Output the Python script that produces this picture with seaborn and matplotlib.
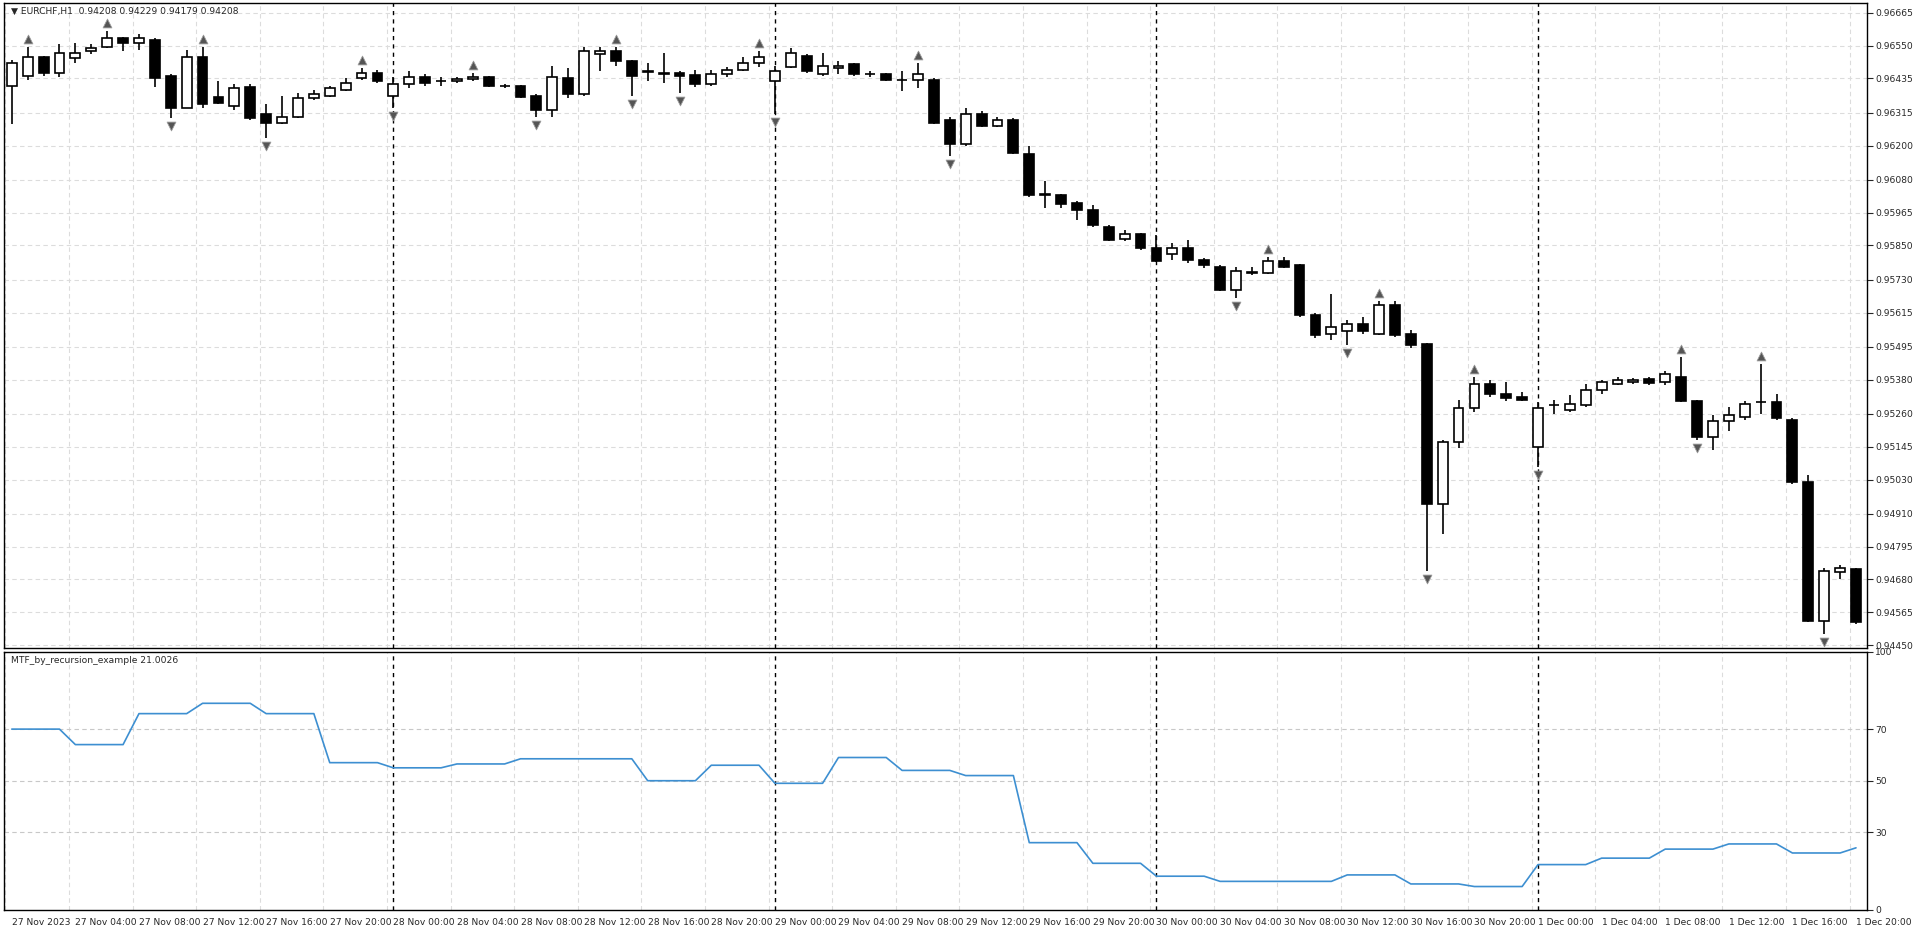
import numpy as np
import pandas as pd
import seaborn as sns
import matplotlib.pyplot as plt

# hourly EURCHF candles, 27 Nov 2023 00:00 .. 1 Dec 2023 20:00
opens = [0.96410, 0.96445, 0.96510, 0.96455, 0.96505, 0.96530, 0.96545, 0.96575, 0.96560, 0.96570,
         0.96445, 0.96330, 0.96510, 0.96370, 0.96340, 0.96405, 0.96310, 0.96280, 0.96300, 0.96365,
         0.96375, 0.96395, 0.96435, 0.96455, 0.96375, 0.96415, 0.96440, 0.96425, 0.96425, 0.96432,
         0.96440, 0.96410, 0.96410, 0.96375, 0.96325, 0.96435, 0.96380, 0.96520, 0.96530, 0.96495,
         0.96460, 0.96455, 0.96455, 0.96448, 0.96415, 0.96450, 0.96465, 0.96490, 0.96425, 0.96475,
         0.96515, 0.96450, 0.96472, 0.96485, 0.96450, 0.96450, 0.96430, 0.96428, 0.96430, 0.96290,
         0.96205, 0.96310, 0.96270, 0.96290, 0.96170, 0.96030, 0.96025, 0.96000, 0.95975, 0.95915,
         0.95872, 0.95890, 0.95840, 0.95820, 0.95840, 0.95800, 0.95775, 0.95695, 0.95755, 0.95755,
         0.95795, 0.95780, 0.95605, 0.95540, 0.95550, 0.95575, 0.95540, 0.95640, 0.95540, 0.95505,
         0.94945, 0.95160, 0.95280, 0.95365, 0.95330, 0.95320, 0.95145, 0.95290, 0.95275, 0.95290,
         0.95345, 0.95365, 0.95370, 0.95382, 0.95370, 0.95390, 0.95305, 0.95180, 0.95235, 0.95250,
         0.95300, 0.95300, 0.95240, 0.95020, 0.94535, 0.94705, 0.94715]
highs = [0.96500, 0.96545, 0.96515, 0.96555, 0.96560, 0.96555, 0.96600, 0.96580, 0.96590, 0.96575,
         0.96450, 0.96535, 0.96545, 0.96425, 0.96415, 0.96415, 0.96345, 0.96375, 0.96385, 0.96395,
         0.96410, 0.96435, 0.96470, 0.96465, 0.96440, 0.96460, 0.96450, 0.96440, 0.96440, 0.96455,
         0.96445, 0.96415, 0.96412, 0.96380, 0.96480, 0.96470, 0.96545, 0.96545, 0.96545, 0.96500,
         0.96490, 0.96525, 0.96460, 0.96465, 0.96465, 0.96475, 0.96510, 0.96530, 0.96480, 0.96540,
         0.96520, 0.96525, 0.96495, 0.96490, 0.96460, 0.96455, 0.96460, 0.96490, 0.96435, 0.96300,
         0.96330, 0.96320, 0.96300, 0.96295, 0.96200, 0.96075, 0.96030, 0.96005, 0.95990, 0.95920,
         0.95905, 0.95893, 0.95885, 0.95860, 0.95870, 0.95805, 0.95780, 0.95775, 0.95775, 0.95810,
         0.95810, 0.95785, 0.95615, 0.95680, 0.95590, 0.95600, 0.95655, 0.95655, 0.95555, 0.95510,
         0.95170, 0.95310, 0.95390, 0.95380, 0.95370, 0.95335, 0.95300, 0.95310, 0.95325, 0.95365,
         0.95380, 0.95390, 0.95385, 0.95390, 0.95410, 0.95460, 0.95310, 0.95255, 0.95285, 0.95305,
         0.95435, 0.95330, 0.95245, 0.95045, 0.94720, 0.94730, 0.94720]
lows = [0.96275, 0.96430, 0.96445, 0.96440, 0.96490, 0.96520, 0.96540, 0.96530, 0.96535, 0.96405,
        0.96295, 0.96330, 0.96330, 0.96345, 0.96325, 0.96290, 0.96225, 0.96275, 0.96295, 0.96360,
        0.96370, 0.96390, 0.96430, 0.96420, 0.96330, 0.96400, 0.96410, 0.96410, 0.96420, 0.96425,
        0.96405, 0.96400, 0.96365, 0.96300, 0.96300, 0.96365, 0.96375, 0.96460, 0.96480, 0.96375,
        0.96425, 0.96420, 0.96385, 0.96405, 0.96410, 0.96440, 0.96460, 0.96475, 0.96310, 0.96470,
        0.96455, 0.96445, 0.96450, 0.96445, 0.96440, 0.96425, 0.96390, 0.96400, 0.96275, 0.96165,
        0.96200, 0.96265, 0.96265, 0.96170, 0.96020, 0.95980, 0.95980, 0.95940, 0.95915, 0.95865,
        0.95865, 0.95835, 0.95793, 0.95800, 0.95790, 0.95770, 0.95690, 0.95665, 0.95745, 0.95750,
        0.95770, 0.95600, 0.95525, 0.95520, 0.95500, 0.95540, 0.95535, 0.95530, 0.95490, 0.94710,
        0.94840, 0.95140, 0.95265, 0.95320, 0.95305, 0.95305, 0.95075, 0.95260, 0.95265, 0.95285,
        0.95330, 0.95360, 0.95365, 0.95360, 0.95360, 0.95300, 0.95170, 0.95135, 0.95200, 0.95240,
        0.95260, 0.95240, 0.95015, 0.94530, 0.94490, 0.94680, 0.94525]
closes = [0.96490, 0.96510, 0.96455, 0.96525, 0.96525, 0.96540, 0.96575, 0.96560, 0.96578, 0.96435,
          0.96330, 0.96510, 0.96345, 0.96350, 0.96400, 0.96295, 0.96280, 0.96300, 0.96365, 0.96380,
          0.96400, 0.96420, 0.96455, 0.96425, 0.96415, 0.96440, 0.96420, 0.96425, 0.96432, 0.96440,
          0.96410, 0.96408, 0.96370, 0.96325, 0.96440, 0.96380, 0.96530, 0.96530, 0.96495, 0.96445,
          0.96458, 0.96450, 0.96445, 0.96415, 0.96450, 0.96465, 0.96490, 0.96510, 0.96460, 0.96525,
          0.96460, 0.96480, 0.96478, 0.96450, 0.96450, 0.96430, 0.96428, 0.96450, 0.96280, 0.96205,
          0.96310, 0.96270, 0.96290, 0.96175, 0.96025, 0.96025, 0.95995, 0.95975, 0.95920, 0.95870,
          0.95890, 0.95840, 0.95795, 0.95840, 0.95800, 0.95780, 0.95695, 0.95760, 0.95758, 0.95795,
          0.95775, 0.95605, 0.95535, 0.95565, 0.95575, 0.95550, 0.95640, 0.95535, 0.95500, 0.94945,
          0.95160, 0.95280, 0.95365, 0.95330, 0.95315, 0.95310, 0.95280, 0.95290, 0.95295, 0.95345,
          0.95370, 0.95380, 0.95380, 0.95368, 0.95400, 0.95305, 0.95180, 0.95235, 0.95255, 0.95295,
          0.95300, 0.95245, 0.95020, 0.94535, 0.94710, 0.94720, 0.94530]

fractal_up = [1, 6, 12, 22, 29, 38, 47, 57, 79, 86, 92, 105, 110]
fractal_down = [10, 16, 24, 33, 39, 42, 48, 59, 77, 84, 89, 96, 106, 114]

# indicator value per bar
indicator = ([70] * 4 + [64] * 4 + [76] * 4 + [80] * 4 + [76] * 4 + [57] * 4 + [55] * 4 + [56.5] * 4
             + [58.5] * 8 + [50] * 4 + [56] * 4 + [49] * 4 + [59] * 4 + [54] * 4 + [52] * 4 + [26] * 4
             + [18] * 4 + [13] * 4 + [11] * 8 + [13.5] * 4 + [10] * 4 + [9] * 4 + [17.5] * 4 + [20] * 4
             + [23.5] * 4 + [25.5] * 4 + [22] * 4 + [24])

price_ticks = [0.96665, 0.96550, 0.96435, 0.96315, 0.96200, 0.96080, 0.95965, 0.95850, 0.95730, 0.95615,
               0.95495, 0.95380, 0.95260, 0.95145, 0.95030, 0.94910, 0.94795, 0.94680, 0.94565, 0.94450]
ind_ticks = [0, 30, 50, 70, 100]

df = pd.DataFrame({"open": opens, "high": highs, "low": lows, "close": closes})
df["bar"] = np.arange(len(df))
df["time"] = pd.date_range("2023-11-27 00:00", periods=len(df), freq="h")
df["ind"] = indicator

sns.set_style("white")
plt.rcParams["font.family"] = ["DejaVu Sans"]

fig = plt.figure(figsize=(19.15, 9.35), dpi=100)
ax = fig.add_axes([0.002, 0.307, 0.973, 0.690])
ax2 = fig.add_axes([0.002, 0.027, 0.973, 0.276])

xmin, xmax = -0.5, 116.7
grid_kw = dict(color="#dcdcdc", linestyle=(0, (4, 3)), linewidth=0.8)
fs = 6.6

# candles
up = df[df.close >= df.open]
dn = df[df.close < df.open]
ax.vlines(df.bar, df.low, df.high, color="black", linewidth=1.2, zorder=3)
ax.bar(up.bar, (up.close - up.open).clip(lower=0.000015), bottom=up.open, width=0.62,
       color="white", edgecolor="black", linewidth=1.2, zorder=4)
ax.bar(dn.bar, dn.open - dn.close, bottom=dn.close, width=0.62,
       color="black", edgecolor="black", linewidth=1.2, zorder=4)

fu = df.loc[fractal_up]
fd = df.loc[fractal_down]
ax.scatter(fu.bar, fu.high + 0.00028, marker="^", s=40, color="#555555", edgecolor="#999999",
           linewidth=0.6, zorder=5)
ax.scatter(fd.bar, fd.low - 0.00028, marker="v", s=40, color="#555555", edgecolor="#999999",
           linewidth=0.6, zorder=5)

ax.set_xlim(xmin, xmax)
ax.set_ylim(0.94440, 0.96700)
ax.yaxis.tick_right()
ax.set_yticks(price_ticks)
ax.set_yticklabels([f"{p:.5f}" for p in price_ticks], fontsize=fs)
ax.set_xticks([])
for p in price_ticks:
    ax.axhline(p, zorder=0, **grid_kw)
for b in range(0, 117, 4):
    ax.axvline(b - 0.4, zorder=0, **grid_kw)
    ax2.axvline(b - 0.4, zorder=0, **grid_kw)
for b in [24, 48, 72, 96]:
    ax.axvline(b, color="black", linestyle=(0, (3, 3)), linewidth=1.0, zorder=2)
    ax2.axvline(b, color="black", linestyle=(0, (3, 3)), linewidth=1.0, zorder=2)
ax.text(0.004, 0.993, "▼ EURCHF,H1  0.94208 0.94229 0.94179 0.94208", transform=ax.transAxes,
        fontsize=fs, va="top", ha="left")

# indicator panel
sns.lineplot(data=df, x="bar", y="ind", ax=ax2, color="#3d8fd1", linewidth=1.2)
ax2.set_xlim(xmin, xmax)
ax2.set_ylim(0, 100)
ax2.yaxis.tick_right()
ax2.set_yticks(ind_ticks)
ax2.set_yticklabels([str(t) for t in ind_ticks], fontsize=fs)
for t in [30, 50, 70]:
    ax2.axhline(t, color="#c8c8c8", linestyle=(0, (4, 3)), linewidth=0.8, zorder=0)
ax2.set_xlabel("")
ax2.set_ylabel("")
ax2.text(0.004, 0.985, "MTF_by_recursion_example 21.0026", transform=ax2.transAxes,
         fontsize=fs, va="top", ha="left")

tick_bars = list(range(0, 117, 4))
labels = []
for b in tick_bars:
    t = df.time[b]
    if b == 0:
        labels.append("27 Nov 2023")
    else:
        labels.append(f"{t.day} {t.strftime('%b')} {t.strftime('%H:%M')}")
ax2.set_xticks(tick_bars)
ax2.set_xticklabels(labels, fontsize=fs, ha="left")
ax2.tick_params(axis="x", length=4, pad=2)

for a in (ax, ax2):
    for s in a.spines.values():
        s.set_color("black")
        s.set_linewidth(1.0)
    a.tick_params(axis="y", length=4, pad=2)

fig.savefig("out.png", dpi=100, facecolor="white")
